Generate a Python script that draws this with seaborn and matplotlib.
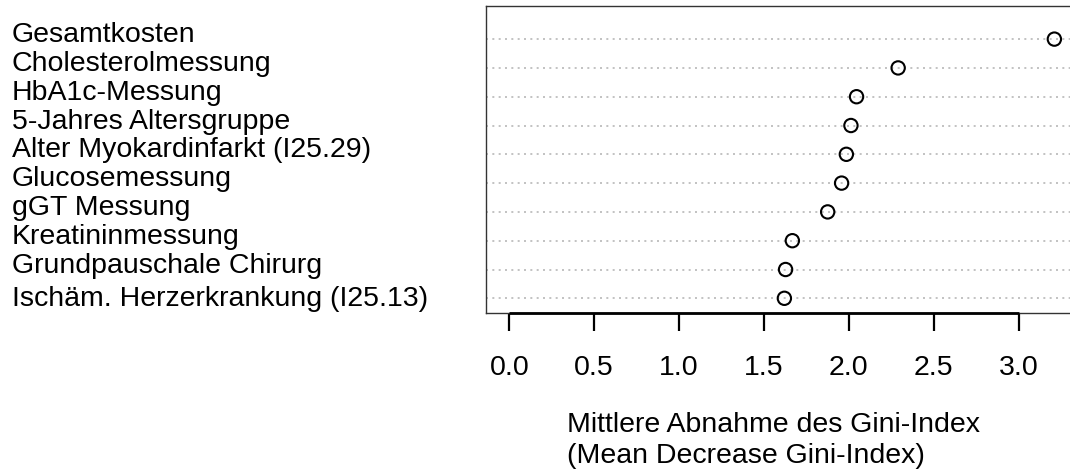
import numpy as np
import pandas as pd
import matplotlib
matplotlib.use("Agg")
import matplotlib.pyplot as plt
import matplotlib.transforms as mtransforms
import seaborn as sns

# Variable importance (random forest), highest first
features = [
    "Gesamtkosten",
    "Cholesterolmessung",
    "HbA1c-Messung",
    "5-Jahres Altersgruppe",
    "Alter Myokardinfarkt (I25.29)",
    "Glucosemessung",
    "gGT Messung",
    "Kreatininmessung",
    "Grundpauschale Chirurg",
    "Ischäm. Herzerkrankung (I25.13)",
]
gini_decrease = [3.21, 2.29, 2.045, 2.012, 1.985, 1.957, 1.875, 1.667, 1.627, 1.620]
x_ticks = [0.0, 0.5, 1.0, 1.5, 2.0, 2.5, 3.0]
x_title_de = "Mittlere Abnahme des Gini-Index"
x_title_en = "(Mean Decrease Gini-Index)"

sns.set_theme(style="white")
plt.rcParams["font.family"] = ["Liberation Sans", "DejaVu Sans"]
FS = 20.5

n = len(features)
df = pd.DataFrame({
    "feature": features,
    "gini": gini_decrease,
    "row": np.arange(n, 0, -1),
})

W, H = 1070, 470
fig = plt.figure(figsize=(W / 100, H / 100), dpi=100)

# plot box: starts at x=486 px, extends past the right edge of the figure
left_px, right_px = 486.0, 1124.0
top_px, bottom_px = 6.0, 312.7
ax = fig.add_axes([left_px / W, 1 - bottom_px / H,
                   (right_px - left_px) / W, (bottom_px - top_px) / H])

px_per_unit = 169.8
x0 = (left_px - 509.3) / px_per_unit
x1 = x0 + (right_px - left_px) / px_per_unit
ax.set_xlim(x0, x1)
ax.set_ylim(0.5, 11.15)

# dotted guide lines for each row
ax.hlines(df["row"], x0, x1, colors="#B8B8B8", linestyles=(0, (1.2, 2.6)),
          linewidth=1.2, zorder=1)

sns.scatterplot(data=df, x="gini", y="row", ax=ax, marker="o", s=92,
                facecolor="none", edgecolor="black", linewidth=1.5,
                zorder=3, legend=False)

# box
for side in ["left", "top", "right", "bottom"]:
    ax.spines[side].set_visible(True)
    ax.spines[side].set_color("#333333")
    ax.spines[side].set_linewidth(1.0)

# axis line spanning the tick range only
ax.hlines(0.5, x_ticks[0], x_ticks[-1], colors="black", linewidth=2.0,
          clip_on=False, zorder=4)
ax.set_xticks(x_ticks)
ax.set_xticklabels([f"{t:.1f}" for t in x_ticks], fontsize=FS)
ax.tick_params(axis="x", direction="out", length=13, width=1.6,
               color="black", pad=17.5, labelcolor="black", bottom=True)
ax.set_yticks([])
ax.set_xlabel("")
ax.set_ylabel("")

# row labels, left-aligned at the figure edge
shifts = np.full(n, -3.0)
shifts[-1] = -7.5
blend = mtransforms.blended_transform_factory(fig.transFigure, ax.transData)
for name, r, dy in zip(df["feature"], df["row"], shifts):
    tr = mtransforms.offset_copy(blend, fig=fig, x=0, y=dy, units="dots")
    ax.text(12 / W, r, name, transform=tr, ha="left", va="baseline",
            fontsize=FS, color="black", clip_on=False)

# axis title (two lines, left-aligned)
fig.text(567 / W, 1 - 431.7 / H, x_title_de, ha="left", va="baseline",
         fontsize=FS, color="black")
fig.text(567 / W, 1 - 463.3 / H, x_title_en, ha="left", va="baseline",
         fontsize=FS, color="black")

fig.savefig("out.png", dpi=100, facecolor="white")
